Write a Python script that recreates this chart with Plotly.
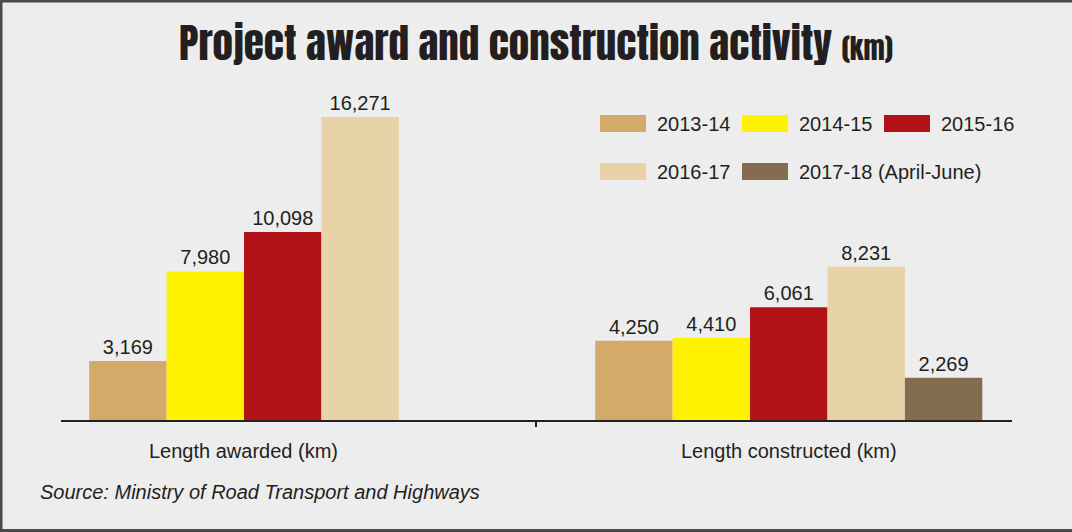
import plotly.graph_objects as go

# ---------------- data ----------------
categories = ["Length awarded (km)", "Length constructed (km)"]
series_names = ["2013-14", "2014-15", "2015-16", "2016-17", "2017-18 (April-June)"]
values_2013_14 = [3169, 4250]
values_2014_15 = [7980, 4410]
values_2015_16 = [10098, 6061]
values_2016_17 = [16271, 8231]
values_2017_18 = [None, 2269]
series_colors = ["#d3aa6a", "#fff200", "#b21117", "#e8d2a8", "#836c50"]
source_text = "Source: Ministry of Road Transport and Highways"
title_main = "Project award and construction activity"
title_unit = "(km)"

series_values = [values_2013_14, values_2014_15, values_2015_16, values_2016_17, values_2017_18]

# ---------------- layout geometry ----------------
W, H = 1072, 532
ML, MR, MT, MB = 61, W - 1012, 80, H - 420
PW, PH = W - ML - MR, H - MT - MB
PB = H - MB  # pixel y of baseline


def px2x(px):
    return (px - ML) / PW


def px2y(py):
    return (PB - py) / PH


BODY_FONT = "Liberation Sans, Arial, sans-serif"
TITLE_FONT = "Anton, Impact, Oswald, sans-serif"
TEXT_COLOR = "#231f20"
BG = "#eeedee"

fig = go.Figure()
for name, vals, col in zip(series_names, series_values, series_colors):
    fig.add_trace(go.Bar(
        name=name, x=categories, y=vals,
        marker=dict(color=col, line=dict(width=0)),
        texttemplate="%{y:,.0f}", textposition="outside",
        textfont=dict(family=BODY_FONT, size=20, color=TEXT_COLOR),
        constraintext="none", cliponaxis=False, showlegend=False,
    ))

shapes = []
annotations = []

# custom legend (2 rows x 3 columns)
col_px = [600, 742, 884]
row_top_px = [115, 163]
sw_w, sw_h = 46, 17
for i, (name, col) in enumerate(zip(series_names, series_colors)):
    cx = col_px[i % 3]
    ry = row_top_px[i // 3]
    shapes.append(dict(type="rect", xref="paper", yref="paper",
                       x0=px2x(cx), x1=px2x(cx + sw_w),
                       y0=px2y(ry + sw_h), y1=px2y(ry),
                       fillcolor=col, line=dict(width=0), layer="above"))
    annotations.append(dict(text=name, xref="paper", yref="paper",
                            x=px2x(cx + 55), y=px2y(ry + sw_h / 2 + 0.5),
                            xanchor="left", yanchor="middle", showarrow=False,
                            font=dict(family=BODY_FONT, size=20, color=TEXT_COLOR)))

# category labels (centred under drawn bars)
label_shift = [-39, 0]
for cat, sh in zip(categories, label_shift):
    annotations.append(dict(text=cat, xref="x", yref="paper", x=cat, xshift=sh,
                            y=px2y(451), yanchor="middle", showarrow=False,
                            font=dict(family=BODY_FONT, size=20, color=TEXT_COLOR)))

# source
annotations.append(dict(text="<i>" + source_text + "</i>", xref="paper", yref="paper",
                        x=px2x(38), y=px2y(492), xanchor="left", yanchor="middle",
                        showarrow=False,
                        font=dict(family=BODY_FONT, size=20, color=TEXT_COLOR)))

# border (left, top, bottom)
shapes.append(dict(type="path", xref="paper", yref="paper",
                   path=f"M {px2x(1200)},{px2y(1)} L {px2x(1)},{px2y(1)} L {px2x(1)},{px2y(530.5)} L {px2x(1200)},{px2y(530.5)}",
                   line=dict(color="#4a4a4a", width=3)))

fig.update_layout(
    width=W, height=H,
    margin=dict(l=ML, r=MR, t=MT, b=MB),
    paper_bgcolor=BG, plot_bgcolor=BG,
    barmode="group", bargap=0.235, bargroupgap=0,
    title=dict(
        text=f"{title_main} <span style='font-size:28px'>{title_unit}</span>",
        font=dict(family=TITLE_FONT, size=41, color="#231f20"),
        x=0.5, xanchor="center", xref="container",
        y=1 - 46 / H, yanchor="middle", yref="container",
    ),
    xaxis=dict(
        type="category", range=[-0.4382, 1.4412],
        showline=True, linecolor="#222222", linewidth=2,
        ticks="outside", tickson="boundaries", ticklen=5, tickwidth=2, tickcolor="#222222",
        showticklabels=False, showgrid=False, zeroline=False, fixedrange=True,
    ),
    yaxis=dict(range=[0, PH * 16271 / 303], visible=False, fixedrange=True),
    shapes=shapes, annotations=annotations,
    showlegend=False,
)

fig.write_html("out.html", post_script="document.body.style.margin='0';",
               config={"displayModeBar": False})
